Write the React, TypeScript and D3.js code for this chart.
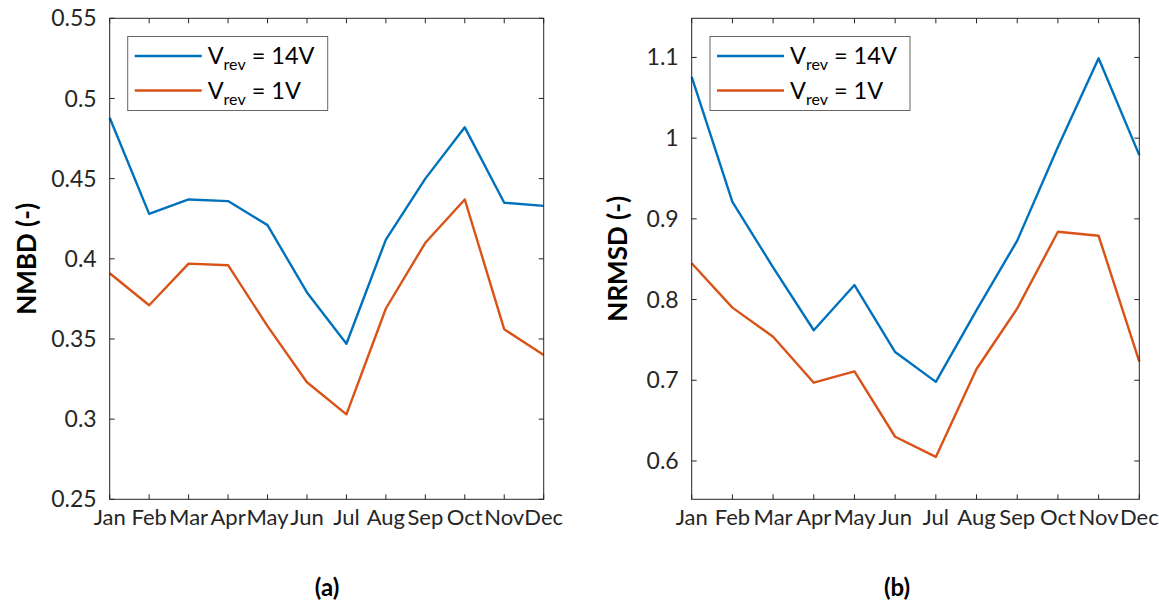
import React from "react";
import * as d3 from "d3";

const months = ["Jan", "Feb", "Mar", "Apr", "May", "Jun", "Jul", "Aug", "Sep", "Oct", "Nov", "Dec"];

const nmbd14 = [0.488, 0.428, 0.437, 0.436, 0.421, 0.379, 0.347, 0.412, 0.45, 0.482, 0.435, 0.433];
const nmbd1 = [0.391, 0.371, 0.397, 0.396, 0.358, 0.323, 0.303, 0.369, 0.41, 0.437, 0.356, 0.34];

const nrmsd14 = [1.076, 0.921, 0.84, 0.762, 0.818, 0.735, 0.698, 0.787, 0.873, 0.989, 1.099, 0.979];
const nrmsd1 = [0.845, 0.79, 0.754, 0.697, 0.711, 0.63, 0.605, 0.714, 0.789, 0.884, 0.879, 0.723];

const nmbdTicks = [0.25, 0.3, 0.35, 0.4, 0.45, 0.5, 0.55];
const nrmsdTicks = [0.6, 0.7, 0.8, 0.9, 1, 1.1];

const seriesNames = ["14V", "1V"];
const colors = ["#0072BD", "#D95319"];

const FONT = "Lato, 'Open Sans', sans-serif";
const AX = "#262626";

type PanelProps = {
  left: number;
  right: number;
  top: number;
  bottom: number;
  domain: [number, number];
  ticks: number[];
  series: number[][];
  ylabel: string;
  ylabelX: number;
  legendX: number;
  tag: string;
  tagX: number;
};

function fmt(v: number) {
  return String(+v.toFixed(2));
}

function Panel(p: PanelProps) {
  const x = d3.scalePoint<string>().domain(months).range([p.left, p.right]);
  const y = d3.scaleLinear().domain(p.domain).range([p.bottom, p.top]);
  const line = d3
    .line<number>()
    .x((_, i) => x(months[i]) as number)
    .y((d) => y(d));
  const tl = 5;
  const legY = 36.5;
  const legW = 200;
  const legH = 74;
  return (
    <g>
      {months.map((m) => {
        const xx = x(m) as number;
        return (
          <g key={m}>
            <line x1={xx} x2={xx} y1={p.bottom} y2={p.bottom - tl} stroke={AX} strokeWidth={1} />
            <line x1={xx} x2={xx} y1={p.top} y2={p.top + tl} stroke={AX} strokeWidth={1} />
            <text x={xx} y={525} textAnchor="middle" fontFamily={FONT} fontSize={22} fill={AX}>
              {m}
            </text>
          </g>
        );
      })}
      {p.ticks.map((t) => {
        const yy = y(t);
        return (
          <g key={t}>
            <line x1={p.left} x2={p.left + tl} y1={yy} y2={yy} stroke={AX} strokeWidth={1} />
            <line x1={p.right} x2={p.right - tl} y1={yy} y2={yy} stroke={AX} strokeWidth={1} />
            <text x={p.left - 13} y={yy} dy="0.35em" textAnchor="end" fontFamily={FONT} fontSize={23} fill={AX}>
              {fmt(t)}
            </text>
          </g>
        );
      })}
      {p.series.map((s, i) => (
        <path key={i} d={line(s) || ""} fill="none" stroke={colors[i]} strokeWidth={2.4} strokeLinejoin="round" />
      ))}
      <rect x={p.left} y={p.top} width={p.right - p.left} height={p.bottom - p.top} fill="none" stroke={AX} strokeWidth={1} />
      <rect x={p.legendX} y={legY} width={legW} height={legH} fill="#fff" stroke="#666" strokeWidth={1} />
      {seriesNames.map((n, i) => {
        const ly = legY + 19.5 + i * 34.5;
        return (
          <g key={n}>
            <line x1={p.legendX + 7} x2={p.legendX + 74} y1={ly} y2={ly} stroke={colors[i]} strokeWidth={2.4} />
            <text x={p.legendX + 80} y={ly + 8} fontFamily={FONT} fontSize={23.5} fill="#000">
              V
              <tspan fontSize={16} dy={6}>rev</tspan>
              <tspan dy={-6}>{" = " + n}</tspan>
            </text>
          </g>
        );
      })}
      <text
        transform={`translate(${p.ylabelX},${(p.top + p.bottom) / 2}) rotate(-90)`}
        textAnchor="middle"
        fontFamily={FONT}
        fontWeight="bold"
        fontSize={26}
        fill="#000"
      >
        {p.ylabel}
      </text>
      <text x={p.tagX} y={596} textAnchor="middle" fontFamily={FONT} fontWeight="bold" fontSize={24} fill="#000">
        {p.tag}
      </text>
    </g>
  );
}

export default function App() {
  return (
    <svg width={1159} height={606} style={{ position: "absolute", left: 0, top: 0, background: "#fff" }}>
      <rect width={1159} height={606} fill="#fff" />
      <Panel
        left={109.7}
        right={543.7}
        top={18.3}
        bottom={499.3}
        domain={[0.25, 0.55]}
        ticks={nmbdTicks}
        series={[nmbd14, nmbd1]}
        ylabel="NMBD (-)"
        ylabelX={36}
        legendX={127.7}
        tag="(a)"
        tagX={327}
      />
      <Panel
        left={691.7}
        right={1139.3}
        top={18.3}
        bottom={499.3}
        domain={[0.5525, 1.1485]}
        ticks={nrmsdTicks}
        series={[nrmsd14, nrmsd1]}
        ylabel="NRMSD (-)"
        ylabelX={627}
        legendX={710}
        tag="(b)"
        tagX={897}
      />
    </svg>
  );
}
